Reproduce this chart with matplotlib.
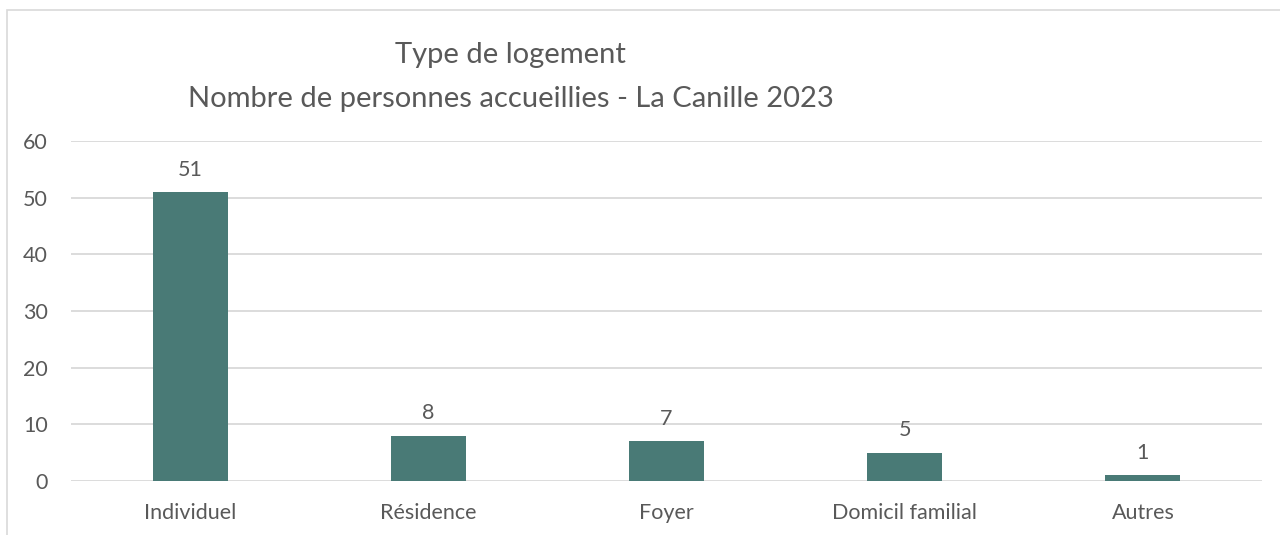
import matplotlib.pyplot as plt
from matplotlib.patches import Rectangle

categories = ['Individuel', 'Résidence', 'Foyer', 'Domicil familial', 'Autres']
values = [51, 8, 7, 5, 1]
yticks = [0, 10, 20, 30, 40, 50, 60]

barColor = '#497A76'
textColor = '#595959'
gridColor = '#D9D9D9'

plt.rcParams['font.family'] = ['Lato', 'DejaVu Sans']

fig = plt.figure(figsize=(12.8, 5.35), dpi=100)
ax = fig.add_axes([0.0555, 0.1009, 0.9305, 0.6355])

# outer chart border (runs off the right and bottom edges)
fig.patches.append(Rectangle((7/1280, -0.05), 1.1, 1-10/535+0.05, transform=fig.transFigure,
                             fill=False, edgecolor=gridColor, linewidth=1.2))

x = range(len(categories))
bars = ax.bar(x, values, width=0.315, color=barColor, zorder=3)
for b, v in zip(bars, values):
    ax.annotate(str(v), (b.get_x()+b.get_width()/2, v), xytext=(0, 9), textcoords='offset points',
                ha='center', va='bottom', fontsize=15.5, color=textColor)

ax.set_xlim(-0.5, len(categories)-0.5)
ax.set_ylim(0, 60)
ax.set_yticks(yticks)
ax.set_xticks(list(x))
ax.set_xticklabels(categories)
ax.tick_params(axis='both', length=0, labelsize=15.5, labelcolor=textColor)
ax.tick_params(axis='x', pad=16)
ax.tick_params(axis='y', pad=16.5)
for lab in ax.get_yticklabels():
    lab.set_horizontalalignment('right')
ax.yaxis.grid(True, color=gridColor, linewidth=1.3, zorder=0)
for s in ax.spines.values():
    s.set_visible(False)

fig.text(0.399, 1-55/535, 'Type de logement', ha='center', va='center', fontsize=21, color=textColor)
fig.text(0.399, 1-99/535, 'Nombre de personnes accueillies - La Canille 2023', ha='center', va='center',
         fontsize=21, color=textColor)

fig.savefig('out.png', dpi=100)
